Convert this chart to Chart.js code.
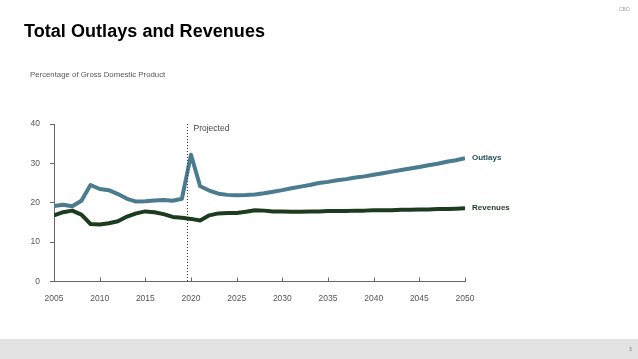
<!DOCTYPE html>
<html>
<head>
<meta charset="utf-8">
<script src="https://cdn.jsdelivr.net/npm/chart.js@4/dist/chart.umd.min.js"></script>
<style>
  html, body { margin: 0; padding: 0; background: #fff; }
  body { width: 638px; height: 359px; position: relative; overflow: hidden; font-family: "Liberation Sans", Arial, sans-serif; }
  #wrap { position: absolute; left: 0; top: 0; width: 638px; height: 359px; }
  .title { position: absolute; left: 24px; top: 21px; font-size: 18px; font-weight: bold; color: #000; white-space: nowrap; letter-spacing: 0.05px; }
  .sub { position: absolute; left: 30px; top: 70px; font-size: 7.8px; color: #555; white-space: nowrap; }
  .cbo { position: absolute; left: 619px; top: 6px; font-size: 5px; color: #999; }
  .footer { position: absolute; left: 0; top: 339px; width: 638px; height: 20px; background: #e3e3e3; }
  .pnum { position: absolute; left: 629px; top: 346px; font-size: 5px; color: #777; }
</style>
</head>
<body>
<div id="wrap"><canvas id="c" width="638" height="359"></canvas></div>
<div class="title">Total Outlays and Revenues</div>
<div class="sub">Percentage of Gross Domestic Product</div>
<div class="cbo">CBO</div>
<div class="footer"></div>
<div class="pnum">3</div>
<script>
const years = [2005,2006,2007,2008,2009,2010,2011,2012,2013,2014,2015,2016,2017,2018,2019,2020,2021,2022,2023,2024,2025,2026,2027,2028,2029,2030,2031,2032,2033,2034,2035,2036,2037,2038,2039,2040,2041,2042,2043,2044,2045,2046,2047,2048,2049,2050];
const outlays = [19.2,19.5,19.1,20.5,24.5,23.5,23.2,22.2,21.0,20.3,20.4,20.6,20.7,20.5,21.0,32.2,24.2,23.1,22.3,22.0,21.9,21.95,22.1,22.4,22.8,23.2,23.7,24.1,24.5,25.0,25.3,25.7,26.0,26.4,26.7,27.1,27.5,27.9,28.3,28.7,29.1,29.5,29.9,30.4,30.8,31.3];
const revenues = [16.8,17.6,18.0,17.0,14.6,14.5,14.8,15.3,16.5,17.3,17.8,17.6,17.1,16.4,16.2,15.9,15.5,16.8,17.3,17.4,17.4,17.7,18.1,18.0,17.8,17.8,17.7,17.7,17.8,17.8,17.9,17.9,17.9,18.0,18.0,18.1,18.1,18.1,18.2,18.2,18.3,18.3,18.4,18.4,18.5,18.6];
const seriesNames = ["Outlays","Revenues"];
const xTicks = [2005,2010,2015,2020,2025,2030,2035,2040,2045,2050];
const yTicks = [0,10,20,30,40];
const projectedYear = 2019.6;
const projectedLabel = "Projected";

const colors = ["#4a7b8e", "#1d3b1f"];
const labelColors = ["#264e5e", "#1d3b1f"];

const extras = {
  id: 'extras',
  afterDatasetsDraw(chart) {
    const ctx = chart.ctx;
    const xs = chart.scales.x, ys = chart.scales.y;
    const area = chart.chartArea;
    ctx.save();
    ctx.strokeStyle = '#666';
    ctx.lineWidth = 1;
    xTicks.forEach(v => {
      const px = Math.round(xs.getPixelForValue(v)) + 0.5;
      ctx.beginPath();
      ctx.moveTo(px, area.bottom);
      ctx.lineTo(px, area.bottom - 4);
      ctx.stroke();
    });
    const px = Math.round(xs.getPixelForValue(projectedYear)) + 0.5;
    ctx.strokeStyle = '#333';
    ctx.setLineDash([1, 2]);
    ctx.beginPath();
    ctx.moveTo(px, ys.getPixelForValue(40));
    ctx.lineTo(px, area.bottom);
    ctx.stroke();
    ctx.setLineDash([]);
    ctx.fillStyle = '#444';
    ctx.font = '8.5px "Liberation Sans", Arial, sans-serif';
    ctx.textBaseline = 'middle';
    ctx.textAlign = 'left';
    ctx.fillText(projectedLabel, px + 6, ys.getPixelForValue(40) + 5);
    ctx.font = 'bold 8px "Liberation Sans Narrow", "Liberation Sans", Arial, sans-serif';
    chart.data.datasets.forEach((ds, i) => {
      const last = ds.data[ds.data.length - 1];
      ctx.fillStyle = labelColors[i];
      ctx.fillText(seriesNames[i], xs.getPixelForValue(last.x) + 7, ys.getPixelForValue(last.y));
    });
    ctx.restore();
  }
};

new Chart(document.getElementById('c'), {
  type: 'line',
  data: {
    datasets: [
      { label: seriesNames[0], data: years.map((y, i) => ({x: y, y: outlays[i]})), borderColor: colors[0], borderWidth: 4, pointRadius: 0, tension: 0, borderJoinStyle: 'round', borderCapStyle: 'butt' },
      { label: seriesNames[1], data: years.map((y, i) => ({x: y, y: revenues[i]})), borderColor: colors[1], borderWidth: 4, pointRadius: 0, tension: 0, borderJoinStyle: 'round', borderCapStyle: 'butt' }
    ]
  },
  options: {
    responsive: false,
    animation: false,
    events: [],
    layout: { padding: { left: 0, top: 124, right: 173, bottom: 0 } },
    plugins: { legend: { display: false }, tooltip: { enabled: false } },
    scales: {
      x: {
        type: 'linear', min: 2005, max: 2050,
        afterBuildTicks: s => { s.ticks = xTicks.map(v => ({value: v})); },
        afterFit: s => { s.height = 359 - 124 - 157.5; },
        grid: { display: false },
        border: { display: true, color: '#666', width: 1 },
        ticks: { color: '#555', font: { size: 8.5, family: '"Liberation Sans", Arial, sans-serif' }, padding: 4, maxRotation: 0, autoSkip: false, callback: v => String(v) }
      },
      y: {
        min: 0, max: 40,
        afterBuildTicks: s => { s.ticks = yTicks.map(v => ({value: v})); },
        afterFit: s => { s.width = 54; },
        grid: { display: true, drawOnChartArea: false, drawTicks: true, tickLength: 4, color: '#666' },
        border: { display: true, color: '#666', width: 1 },
        ticks: { color: '#555', font: { size: 8.5, family: '"Liberation Sans", Arial, sans-serif' }, padding: 10 }
      }
    }
  },
  plugins: [extras]
});
</script>
</body>
</html>
